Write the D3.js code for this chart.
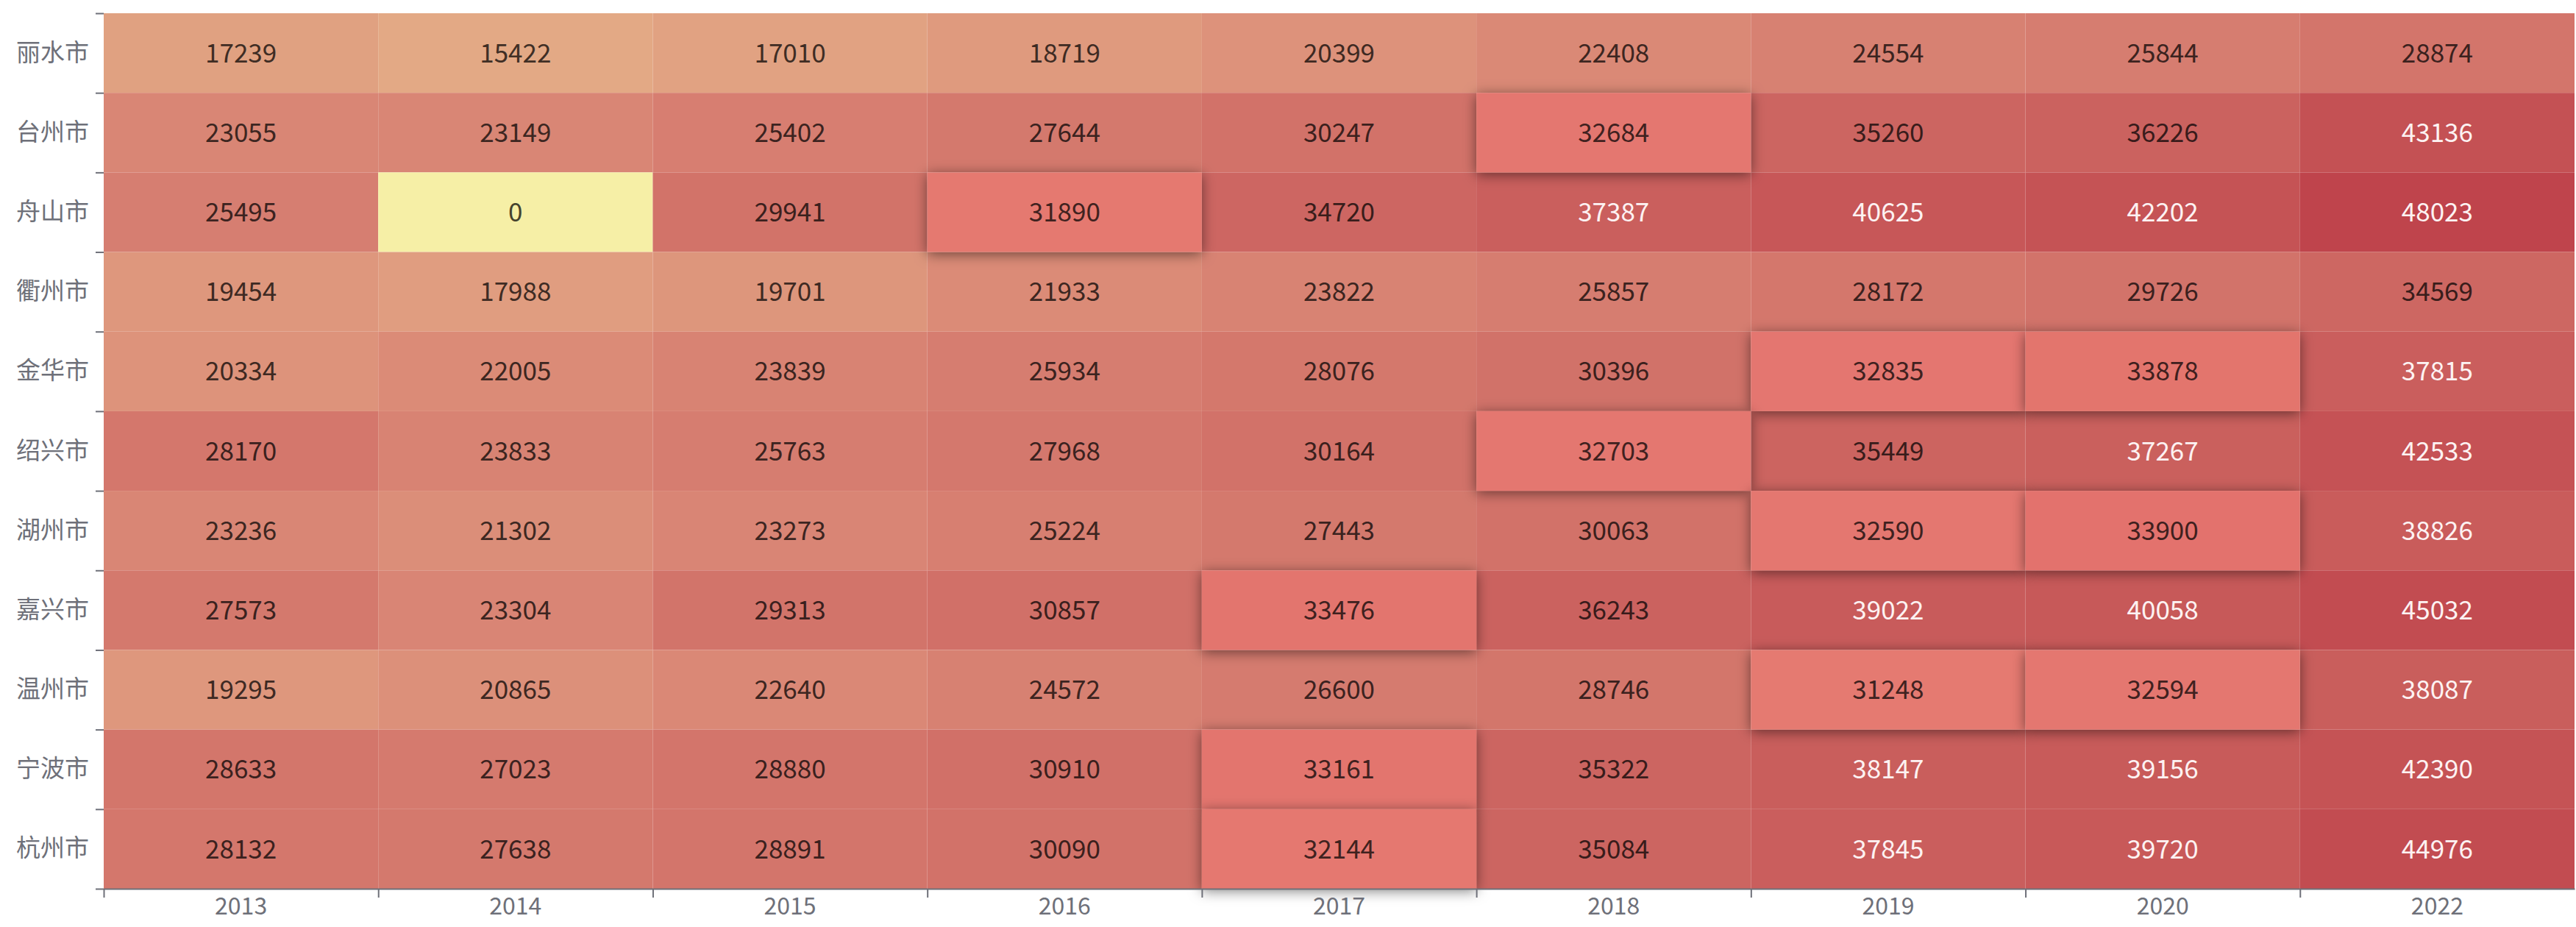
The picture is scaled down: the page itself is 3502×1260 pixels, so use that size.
<!DOCTYPE html>
<html>
<head>
<meta charset="utf-8">
<script src="https://cdn.jsdelivr.net/npm/d3@7"></script>
<style>
  body { margin: 0; background: #fff; }
  svg { display: block; }
  text { font-family: "Noto Sans CJK SC", "Noto Sans", sans-serif; }
</style>
</head>
<body>
<script>
// cities, top row first
var cities = ["丽水市", "台州市", "舟山市", "衢州市", "金华市", "绍兴市", "湖州市", "嘉兴市", "温州市", "宁波市", "杭州市"];
var years = ["2013", "2014", "2015", "2016", "2017", "2018", "2019", "2020", "2022"];

// one array per city, in year order
var lishui   = [17239, 15422, 17010, 18719, 20399, 22408, 24554, 25844, 28874];
var taizhou  = [23055, 23149, 25402, 27644, 30247, 32684, 35260, 36226, 43136];
var zhoushan = [25495, 0, 29941, 31890, 34720, 37387, 40625, 42202, 48023];
var quzhou   = [19454, 17988, 19701, 21933, 23822, 25857, 28172, 29726, 34569];
var jinhua   = [20334, 22005, 23839, 25934, 28076, 30396, 32835, 33878, 37815];
var shaoxing = [28170, 23833, 25763, 27968, 30164, 32703, 35449, 37267, 42533];
var huzhou   = [23236, 21302, 23273, 25224, 27443, 30063, 32590, 33900, 38826];
var jiaxing  = [27573, 23304, 29313, 30857, 33476, 36243, 39022, 40058, 45032];
var wenzhou  = [19295, 20865, 22640, 24572, 26600, 28746, 31248, 32594, 38087];
var ningbo   = [28633, 27023, 28880, 30910, 33161, 35322, 38147, 39156, 42390];
var hangzhou = [28132, 27638, 28891, 30090, 32144, 35084, 37845, 39720, 44976];

var rows = [lishui, taizhou, zhoushan, quzhou, jinhua, shaoxing, huzhou, jiaxing, wenzhou, ningbo, hangzhou];

// values in the hovered range of the visual map are shown lifted
var hoverRange = [31000, 34000];

var width = 3502, height = 1260;
var margin = {top: 18, right: 2, bottom: 52, left: 141};
var w = width - margin.left - margin.right;
var h = height - margin.top - margin.bottom;

// flatten into cells
var cells = [];
rows.forEach(function(vals, r) {
  vals.forEach(function(v, c) {
    cells.push({city: cities[r], year: years[c], value: v});
  });
});

var maxVal = d3.max(cells, function(d) { return d.value; });

var svg = d3.select("body")
  .append("svg")
  .attr("width", width)
  .attr("height", height);

var defs = svg.append("defs");
defs.append("filter")
    .attr("id", "shadow")
    .attr("x", "-20%").attr("y", "-40%")
    .attr("width", "140%").attr("height", "180%")
  .append("feDropShadow")
    .attr("dx", 0)
    .attr("dy", 3)
    .attr("stdDeviation", 9)
    .attr("flood-color", "#000")
    .attr("flood-opacity", 0.5);

var g = svg.append("g")
  .attr("transform", "translate(" + margin.left + "," + margin.top + ")");

var xScale = d3.scaleBand().domain(years).range([0, w]);
var yScale = d3.scaleBand().domain(cities).range([0, h]);

var color = d3.scaleLinear()
  .domain([0, maxVal / 2, maxVal])
  .range(["#f6efa6", "#d88273", "#bf444c"]);

function isHover(d) {
  return d.value >= hoverRange[0] && d.value < hoverRange[1];
}

function fillOf(d) {
  var c = d3.rgb(color(d.value));
  if (isHover(d)) {
    c = d3.rgb(Math.min(255, c.r * 1.1), Math.min(255, c.g * 1.1), Math.min(255, c.b * 1.1));
  }
  return c;
}

// light text on the darkest cells, darkened cell colour elsewhere
function textOf(d) {
  if (d.value >= 37000) return "#fdf2f2";
  var c = fillOf(d);
  return d3.rgb(c.r * 0.28, c.g * 0.28, c.b * 0.28);
}

// y axis: boundary ticks + labels
var yTicks = d3.axisLeft(d3.scaleLinear().domain([0, cities.length]).range([0, h]))
  .tickValues(d3.range(cities.length + 1))
  .tickSize(11)
  .tickFormat("");
var yT = g.append("g").call(yTicks);
yT.select(".domain").remove();
yT.selectAll("line").attr("stroke", "#6e7079").attr("stroke-width", 2);

var yLab = g.append("g").call(d3.axisLeft(yScale).tickSize(0).tickPadding(20));
yLab.select(".domain").remove();
yLab.selectAll("text")
  .attr("fill", "#6e7079")
  .style("font-size", "33px");

// plain cells first, lifted ones on top with a shadow
var normal = cells.filter(function(d) { return !isHover(d); });
var lifted = cells.filter(isHover);

function drawCells(data, cls) {
  var sel = g.selectAll("." + cls)
    .data(data)
    .enter()
    .append("g")
    .attr("class", cls);

  sel.append("rect")
    .attr("x", function(d) { return xScale(d.year); })
    .attr("y", function(d) { return yScale(d.city); })
    .attr("width", xScale.bandwidth())
    .attr("height", yScale.bandwidth())
    .attr("fill", fillOf);

  sel.append("text")
    .attr("x", function(d) { return xScale(d.year) + xScale.bandwidth() / 2; })
    .attr("y", function(d) { return yScale(d.city) + yScale.bandwidth() / 2; })
    .attr("dy", "0.36em")
    .attr("text-anchor", "middle")
    .style("font-size", "35px")
    .attr("fill", textOf)
    .text(function(d) { return d.value; });
  return sel;
}

drawCells(normal, "cell");
drawCells(lifted, "hot").select("rect").attr("filter", "url(#shadow)");

// x axis: line, boundary ticks and labels
var xTicks = d3.axisBottom(d3.scaleLinear().domain([0, years.length]).range([0, w]))
  .tickValues(d3.range(years.length))
  .tickSize(12)
  .tickSizeOuter(0)
  .tickFormat("");
var xT = g.append("g")
  .attr("transform", "translate(0," + h + ")")
  .call(xTicks);
xT.select(".domain").attr("stroke", "#6e7079").attr("stroke-width", 2);
xT.selectAll("line").attr("stroke", "#6e7079").attr("stroke-width", 2);

var xLab = g.append("g")
  .attr("transform", "translate(0," + h + ")")
  .call(d3.axisBottom(xScale).tickSize(0).tickPadding(12));
xLab.select(".domain").remove();
xLab.selectAll("text")
  .attr("fill", "#6e7079")
  .style("font-size", "32px");
</script>
</body>
</html>
